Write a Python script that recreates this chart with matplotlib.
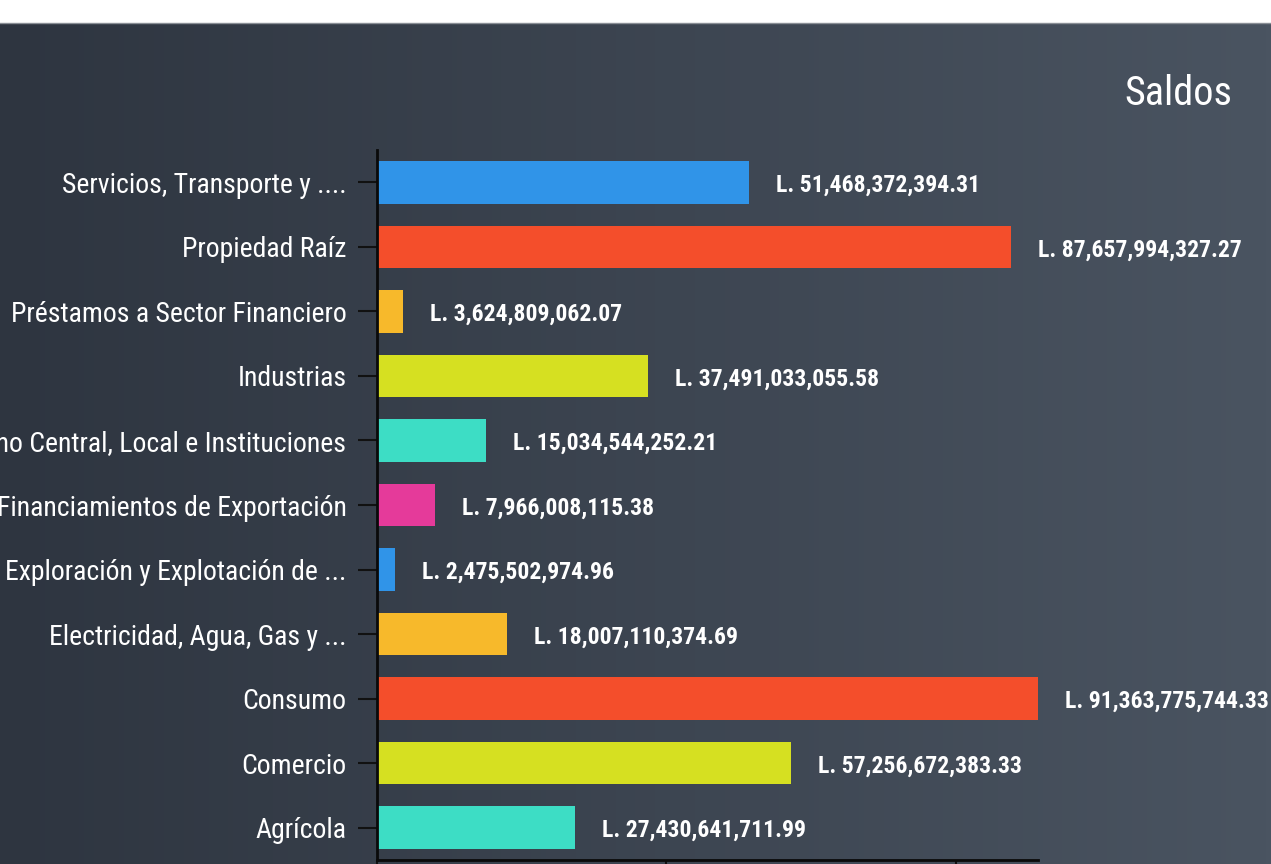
import matplotlib
matplotlib.use("Agg")
import matplotlib.pyplot as plt
import numpy as np
from matplotlib import font_manager

names = {f.name for f in font_manager.fontManager.ttflist}
cond = "Roboto Condensed" if "Roboto Condensed" in names else "Roboto"

categories = ["Agrícola", "Comercio", "Consumo", "Electricidad, Agua, Gas y ...",
              "Exploración y Explotación de ...", "Financiamientos de Exportación",
              "Gobierno Central, Local e Instituciones", "Industrias",
              "Préstamos a Sector Financiero", "Propiedad Raíz", "Servicios, Transporte y ...."]
values = [27430641711.99, 57256672383.33, 91363775744.33, 18007110374.69,
          2475502974.96, 7966008115.38, 15034544252.21, 37491033055.58,
          3624809062.07, 87657994327.27, 51468372394.31]
colors = ["#3DDDC5", "#D6E021", "#F44E2B", "#F7B92B", "#3094E8", "#E53A9A",
          "#3DDDC5", "#D6E021", "#F7B92B", "#F44E2B", "#3094E8"]
title = "Saldos"

W, H = 1271, 864
fig = plt.figure(figsize=(W / 100, H / 100), dpi=100)
fig.patch.set_facecolor("white")

# background gradient
bg = fig.add_axes([0, 0, 1, 1 - 23 / H])
bg.set_axis_off()
c0 = np.array([0x2E, 0x35, 0x40]) / 255
c1 = np.array([0x4A, 0x54, 0x61]) / 255
t = np.linspace(0, 1, 256)
grad = (c0[None, :] * (1 - t[:, None]) + c1[None, :] * t[:, None])[None, :, :]
bg.imshow(grad, aspect="auto", extent=[0, 1, 0, 1])
bg.set_xlim(0, 1); bg.set_ylim(0, 1)
fig.add_artist(plt.Line2D([0, 1], [1 - 22.5 / H] * 2, color="#8a8f96", lw=1, transform=fig.transFigure))

ax = fig.add_axes([377 / W, 1 - 860 / H, (1038 - 377) / W, (860 - 150) / H])
ax.set_facecolor("none")
y = np.arange(len(categories))
ax.barh(y, values, height=0.66, color=colors)
ax.set_xlim(0, max(values))
ax.set_ylim(-0.5, len(categories) - 0.5)
ax.set_yticks(y)
ax.set_yticklabels(categories, fontfamily=cond, fontsize=20, color="white")
for lbl in ax.get_yticklabels():
    lbl.set_y(lbl.get_position()[1])
ax.set_xticks([0, 40e9, 80e9])
ax.set_xticklabels(["", "", ""])
ax.tick_params(axis="y", length=14, width=1.5, color="#111111", pad=8)
ax.tick_params(axis="x", length=14, width=1.5, color="#111111")
for s in ["top", "right"]:
    ax.spines[s].set_visible(False)
for s in ["left", "bottom"]:
    ax.spines[s].set_color("#0a0a0a")
    ax.spines[s].set_linewidth(2)

for yi, v in zip(y, values):
    ax.annotate(f"L. {v:,.2f}", xy=(v, yi), xytext=(27, -3), textcoords="offset pixels",
                ha="left", va="center", fontfamily=cond, fontweight="bold",
                fontsize=17, color="white", annotation_clip=False)

fig.text(1232 / W, 1 - 105 / H, title, ha="right", va="baseline", fontfamily=cond,
         fontsize=29, color="white")

fig.savefig("out.png", dpi=100)
